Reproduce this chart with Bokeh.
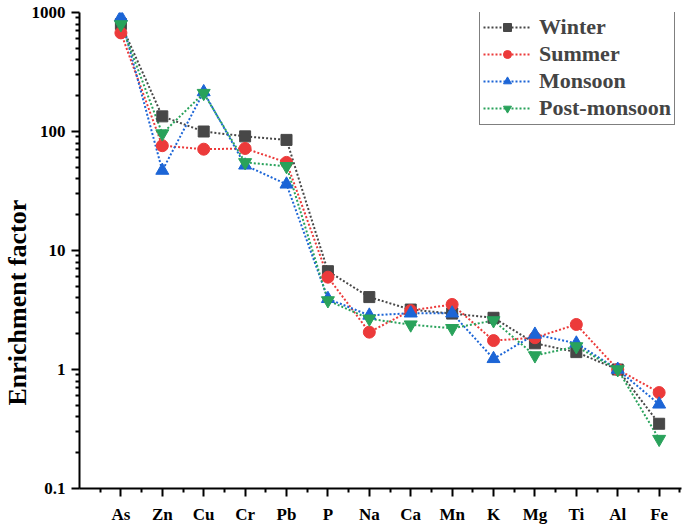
from bokeh.plotting import figure
from bokeh.models import (FixedTicker, CustomJSTickFormatter, Legend, LegendItem, Range1d, Title)
from bokeh.embed import file_html
from bokeh.resources import INLINE

# ---- data ----
elements = ["As", "Zn", "Cu", "Cr", "Pb", "P", "Na", "Ca", "Mn", "K", "Mg", "Ti", "Al", "Fe"]
x_pos = list(range(1, len(elements) + 1))

winter = [800, 134, 100, 91, 85, 6.7, 4.06, 3.19, 2.95, 2.72, 1.66, 1.40, 1.0, 0.35]
summer = [674, 76, 71, 72, 55, 5.97, 2.06, 3.13, 3.52, 1.75, 1.85, 2.39, 1.0, 0.64]
monsoon = [913, 47, 215, 52, 36, 3.93, 2.85, 2.97, 2.97, 1.23, 1.97, 1.66, 1.0, 0.51]
post_monsoon = [793, 96, 210, 55, 51, 3.8, 2.67, 2.38, 2.22, 2.58, 1.31, 1.56, 1.0, 0.26]

series_names = ["Winter", "Summer", "Monsoon", "Post-monsoon"]
series_values = [winter, summer, monsoon, post_monsoon]

y_major = [0.1, 1, 10, 100, 1000]

# ---- styles ----
colors = ["#474747", "#ec3a3a", "#1c65d6", "#29a25b"]
markers = ["square", "circle", "triangle", "inverted_triangle"]
sizes = [11, 12, 13, 13]
FONT = "Liberation Serif"

p = figure(width=685, height=529, y_axis_type="log",
           x_range=Range1d(0, 14.54), y_range=Range1d(0.1, 1000),
           output_backend="svg", toolbar_location=None,
           min_border_left=79, min_border_right=4, min_border_top=12, min_border_bottom=41)
p.outline_line_color = None
p.xgrid.visible = False
p.ygrid.visible = False

line_renderers = []
for vals, c in zip(series_values, colors):
    r = p.line(x_pos, vals, line_color=c, line_width=2, line_dash="2 2")
    line_renderers.append(r)

scatter_renderers = []
for vals, c, m, s in zip(series_values, colors, markers, sizes):
    r = p.scatter(x_pos, vals, marker=m, size=s, fill_color=c, line_color=c)
    scatter_renderers.append(r)

# axes
minor_y = []
for base in y_major[:-1]:
    for k in range(2, 10):
        minor_y.append(base * k)
p.yaxis.ticker = FixedTicker(ticks=y_major, minor_ticks=minor_y)
p.yaxis.formatter = CustomJSTickFormatter(code="return tick.toString()")
p.xaxis.ticker = FixedTicker(ticks=x_pos, minor_ticks=[i + 0.5 for i in range(0, 15)])
p.xaxis.major_label_overrides = {i: e for i, e in zip(x_pos, elements)}

for ax in (p.xaxis[0], p.yaxis[0]):
    ax.axis_line_width = 2
    ax.axis_line_color = "black"
    ax.major_tick_line_width = 2
    ax.minor_tick_line_width = 2
    ax.major_tick_in = 0
    ax.major_tick_out = 8
    ax.minor_tick_in = 0
    ax.minor_tick_out = 4
    ax.major_label_text_font = FONT
    ax.major_label_text_font_style = "bold"
    ax.major_label_text_font_size = "17px"
    ax.major_label_text_color = "black"

p.xaxis.major_label_standoff = 8
p.yaxis.major_label_standoff = 6

# y-axis title (sits lower than the frame centre, as in the original)
ytitle = Title(text="Enrichment factor", align="left", offset=83,
               text_font=FONT, text_font_style="bold", text_font_size="26px",
               text_color="black", standoff=-6)
p.add_layout(ytitle, "left")

items = [LegendItem(label=n, renderers=[lr, sr])
         for n, lr, sr in zip(series_names, line_renderers, scatter_renderers)]
legend = Legend(items=items, location=(400, 363))
legend.margin = 0
legend.padding = 3
legend.spacing = 1
legend.glyph_width = 48
legend.glyph_height = 20
legend.label_height = 20
legend.label_standoff = 8
legend.label_text_font = FONT
legend.label_text_font_style = "bold"
legend.label_text_font_size = "22px"
legend.border_line_color = "black"
legend.border_line_width = 1.5
legend.background_fill_alpha = 1
p.add_layout(legend)

open("out.html", "w").write(file_html(p, INLINE))
